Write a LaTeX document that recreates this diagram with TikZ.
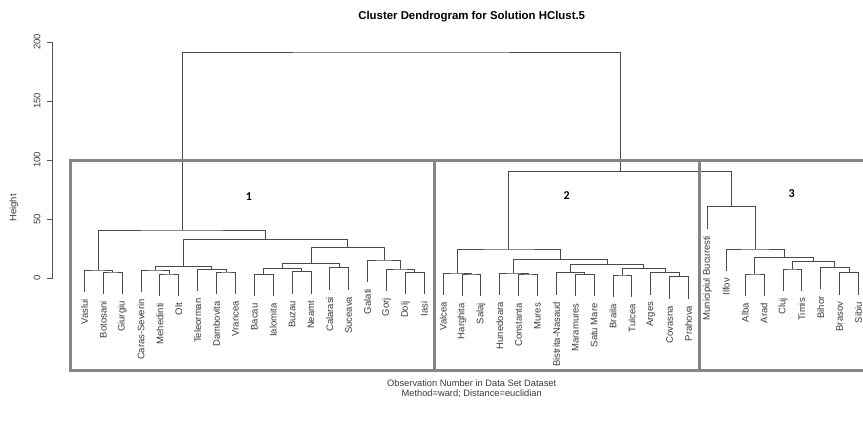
\documentclass[tikz,border=0pt]{standalone}
\usepackage{fontspec}
\setmainfont{Liberation Sans}
\newfontfamily\numfont{Carlito}
\usetikzlibrary{calc}
\definecolor{dendc}{HTML}{4A4A4A}
\definecolor{labc}{HTML}{3A3A3A}
\definecolor{boxc}{HTML}{858585}
\definecolor{axisc}{HTML}{555555}
\tikzset{
  dl/.style={draw=dendc, line width=0.9pt},
  lab/.style={rotate=90, anchor=east, inner sep=0pt, text=labc, font=\fontsize{9.5}{10}\selectfont},
  clbox/.style={draw=boxc, line width=3pt},
  clnum/.style={font=\numfont\bfseries\fontsize{12}{12}\selectfont, inner sep=0pt},
  ticklab/.style={rotate=90, inner sep=0pt, text=labc, font=\fontsize{9.5}{10}\selectfont},
}
% leaf: name, index, parent height (px), label
\newcommand\lf[4]{%
  \coordinate (#1) at ({84.4+18.88*(#2-1)},{#3+22});
  \node[lab] (#1t) at ({84.4+18.88*(#2-1)},{#3+29}) {#4};
}
% merge: name, child a, child b, height (px)
\newcommand\mg[4]{%
  \coordinate (#1m) at ($(#2)!0.5!(#3)$);
  \coordinate (#1) at (#1m |- 0,#4);
  \draw[dl] (#2) |- (#1) -| (#3);
}
\begin{document}
\begin{tikzpicture}[x=1pt,y=-1pt]
\useasboundingbox (0,0) rectangle (863,433);

% title and axis labels
\node[font=\bfseries\fontsize{11.4}{12}\selectfont] (title) at (471.7,17) {Cluster Dendrogram for Solution HClust.5};
\node[font=\fontsize{9.3}{10}\selectfont, text=labc] (sub1) at (471.7,383.3) {Observation Number in Data Set Dataset};
\node[font=\fontsize{9.3}{10}\selectfont, text=labc] (sub2) at (471.7,393.6) {Method=ward; Distance=euclidian};
\node[ticklab] (ylab) at (14,208) {Height};

% y axis
\draw[axisc, line width=0.8pt] (52.5,42) -- (52.5,278);
\foreach \h/\yy in {0/278,50/219,100/160,150/101,200/42}{
  \draw[axisc, line width=0.8pt] (47,\yy) -- (52.5,\yy);
  \node[ticklab] at (37,\yy) {\h};
}

% leaves
\lf{L1}{1}{270}{Vaslui}
\lf{L2}{2}{272}{Botosani}
\lf{L3}{3}{272}{Giurgiu}
\lf{L4}{4}{270}{Caras-Severin}
\lf{L5}{5}{274}{Mehedinti}
\lf{L6}{6}{274}{Olt}
\lf{L7}{7}{269.3}{Teleorman}
\lf{L8}{8}{272}{Dambovita}
\lf{L9}{9}{272}{Vrancea}
\lf{L10}{10}{274.3}{Bacau}
\lf{L11}{11}{274.3}{Ialomita}
\lf{L12}{12}{271.7}{Buzau}
\lf{L13}{13}{271.7}{Neamt}
\lf{L14}{14}{267.7}{Calarasi}
\lf{L15}{15}{267.7}{Suceava}
\lf{L16}{16}{260}{Galati}
\lf{L17}{17}{269}{Gorj}
\lf{L18}{18}{272.3}{Dolj}
\lf{L19}{19}{272.3}{Iasi}
\lf{L20}{20}{273}{Valcea}
\lf{L21}{21}{274}{Harghita}
\lf{L22}{22}{274}{Salaj}
\lf{L23}{23}{273}{Hunedoara}
\lf{L24}{24}{274}{Constanta}
\lf{L25}{25}{274}{Mures}
\lf{L26}{26}{272.7}{Bistrita-Nasaud}
\lf{L27}{27}{274.3}{Maramures}
\lf{L28}{28}{274.3}{Satu Mare}
\lf{L29}{29}{275}{Braila}
\lf{L30}{30}{275}{Tulcea}
\lf{L31}{31}{272.7}{Arges}
\lf{L32}{32}{276.7}{Covasna}
\lf{L33}{33}{276.7}{Prahova}
\lf{L34}{34}{206.7}{Municipiul Bucuresti}
\lf{L35}{35}{249}{Ilfov}
\lf{L36}{36}{274}{Alba}
\lf{L37}{37}{274}{Arad}
\lf{L38}{38}{269}{Cluj}
\lf{L39}{39}{269}{Timis}
\lf{L40}{40}{267.3}{Bihor}
\lf{L41}{41}{272.7}{Brasov}
\lf{L42}{42}{272.7}{Sibiu}

% cluster 1
\mg{bg}{L2}{L3}{272}
\mg{vbg}{L1}{bg}{270}
\mg{mo}{L5}{L6}{274}
\mg{cmo}{L4}{mo}{270}
\mg{dv}{L8}{L9}{272}
\mg{tdv}{L7}{dv}{269.3}
\mg{gA}{cmo}{tdv}{266.7}
\mg{bi}{L10}{L11}{274.3}
\mg{bn}{L12}{L13}{271.7}
\mg{bibn}{bi}{bn}{268.3}
\mg{cs}{L14}{L15}{267.7}
\mg{bsix}{bibn}{cs}{263.3}
\mg{di}{L18}{L19}{272.3}
\mg{gdi}{L17}{di}{269}
\mg{ggdi}{L16}{gdi}{260}
\mg{gB}{bsix}{ggdi}{247.3}
\mg{gAB}{gA}{gB}{239.3}
\mg{cA}{vbg}{gAB}{230}

% cluster 2
\mg{hs}{L21}{L22}{274}
\mg{vhs}{L20}{hs}{273}
\mg{cm}{L24}{L25}{274}
\mg{hcm}{L23}{cm}{273}
\mg{ms}{L27}{L28}{274.3}
\mg{bms}{L26}{ms}{272.7}
\mg{bt}{L29}{L30}{275}
\mg{cp}{L32}{L33}{276.7}
\mg{acp}{L31}{cp}{272.7}
\mg{btacp}{bt}{acp}{268.3}
\mg{rone}{bms}{btacp}{264.3}
\mg{rtwo}{hcm}{rone}{259.3}
\mg{cB}{vhs}{rtwo}{249}

% cluster 3
\mg{aa}{L36}{L37}{274}
\mg{ct}{L38}{L39}{269}
\mg{bs}{L41}{L42}{272.7}
\mg{bbs}{L40}{bs}{267.3}
\mg{ctb}{ct}{bbs}{261.7}
\mg{rsev}{aa}{ctb}{257.7}
\mg{ir}{L35}{rsev}{249}
\mg{cC}{L34}{ir}{206.7}

% top
\mg{cBC}{cB}{cC}{171.7}
\mg{root}{cA}{cBC}{52}

% cluster boxes
\draw[clbox] (70,161) rectangle (434,370);
\draw[clbox] (434,161) rectangle (699.5,370);
\draw[clbox] (699.5,161) rectangle (870,370);
\node[clnum] (n1) at (249,196.5) {1};
\node[clnum] (n2) at (566.7,196) {2};
\node[clnum] (n3) at (791.7,193.5) {3};
\end{tikzpicture}
\end{document}
